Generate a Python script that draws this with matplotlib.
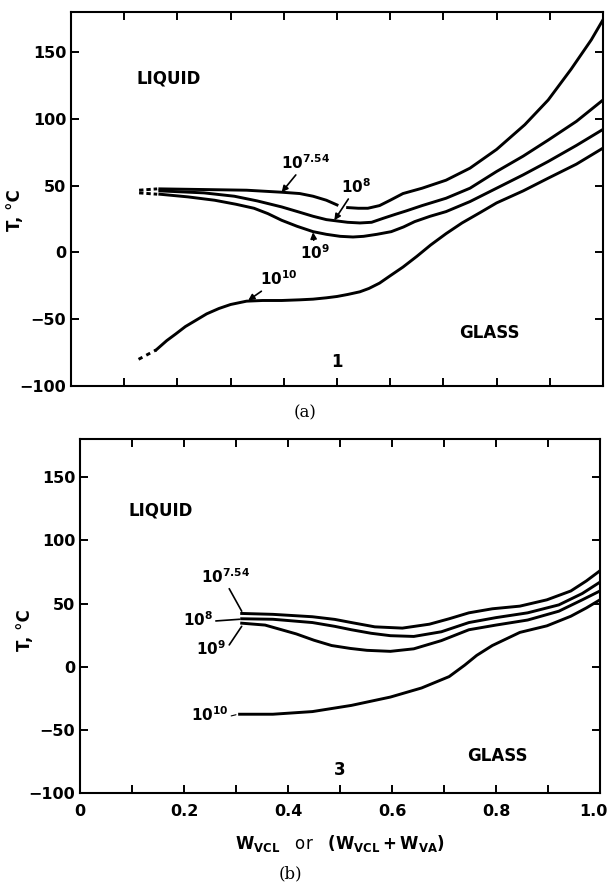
import numpy as np
import matplotlib
matplotlib.use("Agg")
import matplotlib.pyplot as plt
import matplotlib.transforms as mtransforms

plt.rcParams['font.family'] = ['DejaVu Sans']
plt.rcParams['mathtext.default'] = 'bf'

# ---------------- panel (a): sample 1 ----------------
a754_x1 = [0.167, 0.25, 0.33, 0.396, 0.43, 0.455, 0.48, 0.50]
a754_y1 = [47.5, 47, 46.5, 45, 44, 42, 39, 35.5]
a754_x2 = [0.52, 0.54, 0.558, 0.58, 0.60, 0.624, 0.66, 0.705, 0.75, 0.80,
           0.853, 0.897, 0.94, 0.978, 1.0]
a754_y2 = [33.5, 33, 33, 35, 39, 44, 48, 54, 63, 77, 95.5, 114, 137, 159, 174]

a8_x = [0.167, 0.25, 0.307, 0.35, 0.396, 0.43, 0.455, 0.48, 0.50, 0.52, 0.543,
        0.565, 0.587, 0.61, 0.63, 0.66, 0.705, 0.75, 0.80, 0.85, 0.897, 0.95, 1.0]
a8_y = [46, 44.5, 42, 38.5, 34, 30, 27, 24.5, 23.5, 22.5, 22, 22.5, 25.5, 28.5,
        31, 35, 40.5, 48, 60.5, 72, 84, 98, 114]

a9_x = [0.167, 0.22, 0.27, 0.31, 0.344, 0.37, 0.396, 0.425, 0.455, 0.48, 0.506,
        0.53, 0.55, 0.575, 0.602, 0.625, 0.646, 0.675, 0.705, 0.75, 0.80, 0.85,
        0.897, 0.95, 1.0]
a9_y = [43.5, 41.5, 39, 36, 33, 29, 24, 19.5, 15.5, 13.5, 12, 11.5, 12, 13.5,
        15.5, 19, 23, 27, 30.5, 38, 48, 58, 68, 80, 92]

a10_x = [0.16, 0.18, 0.197, 0.215, 0.234, 0.255, 0.278, 0.30, 0.33, 0.36, 0.396,
         0.43, 0.455, 0.48, 0.50, 0.52, 0.543, 0.56, 0.58, 0.60, 0.624, 0.65,
         0.676, 0.705, 0.735, 0.77, 0.80, 0.85, 0.897, 0.95, 1.0]
a10_y = [-73, -66, -61, -55.5, -51, -46, -42, -39, -36.5, -36, -36, -35.5, -35,
         -34, -33, -31.5, -29.5, -27, -23, -17.5, -11, -3, 5.5, 14, 22, 30, 37,
         46, 55.5, 66, 78]

# dashed (extrapolated) starts
a_dash_x = [0.128, 0.162]
a754_dash_y = [46.5, 47.5]
a9_dash_y = [44.5, 43.5]
a10_dash_x = [0.127, 0.16]
a10_dash_y = [-80, -73]

# ---------------- panel (b): sample 3 ----------------
b754_x = [0.311, 0.371, 0.447, 0.49, 0.522, 0.567, 0.62, 0.672, 0.71, 0.748,
          0.793, 0.846, 0.898, 0.944, 0.974, 1.0]
b754_y = [42.2, 41.5, 39.6, 37.5, 35, 31.6, 30.6, 33.7, 38, 42.7, 45.9, 48,
          53, 60, 68, 76]

b8_x = [0.311, 0.371, 0.447, 0.49, 0.522, 0.56, 0.597, 0.642, 0.695, 0.748,
        0.80, 0.861, 0.921, 0.966, 1.0]
b8_y = [38, 37.6, 35, 32, 29.3, 26.5, 24.6, 24, 27.7, 35, 38.9, 42.7, 49, 58, 67]

b9_x = [0.311, 0.356, 0.416, 0.45, 0.484, 0.52, 0.552, 0.597, 0.642, 0.695,
        0.748, 0.80, 0.861, 0.921, 0.966, 1.0]
b9_y = [34.5, 33, 26, 21, 16.8, 14.5, 13, 12.2, 14.2, 20.7, 29.3, 33, 37, 44,
        53, 60]

b10_x = [0.307, 0.371, 0.447, 0.522, 0.597, 0.657, 0.71, 0.74, 0.763, 0.793,
         0.846, 0.898, 0.944, 0.974, 1.0]
b10_y = [-37.6, -37.6, -35.5, -30.6, -24, -16.8, -7.8, 1.3, 9, 16.8, 27.2,
         32.4, 40, 46.6, 53]

yticks = [-100, -50, 0, 50, 100, 150]
xticks_major = [0, 0.2, 0.4, 0.6, 0.8, 1.0]
xtick_labels = ['0', '0.2', '0.4', '0.6', '0.8', '1.0']
xticks_minor = [0.1, 0.3, 0.5, 0.7, 0.9]

LW = 2.1
TXT = dict(fontsize=12, fontweight='bold')


def style_axes(ax, ylab_y):
    ax.set_xlim(0, 1.0)
    ax.set_ylim(-100, 180)
    ax.set_yticks(yticks)
    ax.set_xticks(xticks_major)
    ax.set_xticks(xticks_minor, minor=True)
    ax.tick_params(which='both', direction='in', top=True, right=True,
                   length=6, width=1.4, labelsize=11.5)
    ax.tick_params(axis='x', pad=8)
    for lab in ax.get_yticklabels():
        lab.set_fontweight('bold')
    for sp in ax.spines.values():
        sp.set_linewidth(1.5)
    ax.set_ylabel('T, °C', fontsize=12, fontweight='bold')
    ax.yaxis.set_label_coords(-0.088, ylab_y)


fig = plt.figure(figsize=(6.11, 8.84), dpi=100)

# ---- (a) ----
ax = fig.add_axes([0.1162, 0.5633, 0.8707, 0.4234])
style_axes(ax, 0.47)
ax.set_xticklabels([])
ax.plot(a754_x1, a754_y1, 'k-', lw=LW)
ax.plot(a754_x2, a754_y2, 'k-', lw=LW)
ax.plot(a8_x, a8_y, 'k-', lw=LW)
ax.plot(a9_x, a9_y, 'k-', lw=LW)
ax.plot(a10_x, a10_y, 'k-', lw=LW)
ax.plot(a_dash_x, a754_dash_y, 'k', lw=LW, ls=(0, (1.5, 1)))
ax.plot(a_dash_x, a9_dash_y, 'k', lw=LW, ls=(0, (1.5, 1)))
ax.plot(a10_dash_x, a10_dash_y, 'k', lw=LW, ls=(0, (1.5, 1.5)))

arrow = dict(arrowstyle='-|>', color='k', lw=1.2, mutation_scale=9,
             shrinkA=0, shrinkB=0)
ax.annotate(r'$10^{7.54}$', xy=(0.396, 45), xytext=(0.395, 60),
            fontsize=11, ha='left', va='bottom', arrowprops=arrow)
ax.annotate(r'$10^{8}$', xy=(0.495, 24), xytext=(0.508, 42),
            fontsize=11, ha='left', va='bottom', arrowprops=arrow)
ax.annotate(r'$10^{9}$', xy=(0.455, 15), xytext=(0.43, 7),
            fontsize=11, ha='left', va='top', arrowprops=arrow)
ax.annotate(r'$10^{10}$', xy=(0.333, -36), xytext=(0.355, -27),
            fontsize=11, ha='left', va='bottom', arrowprops=arrow)
ax.text(0.123, 130, 'LIQUID', ha='left', va='center', **TXT)
ax.text(0.73, -60, 'GLASS', ha='left', va='center', **TXT)
ax.text(0.5, -82, '1', ha='center', va='center', **TXT)
fig.text(305 / 611, 1 - 413 / 884, '(a)', ha='center', va='center',
         fontsize=12, family='DejaVu Serif')

# ---- (b) ----
ax = fig.add_axes([0.1309, 0.1029, 0.851, 0.4000])
style_axes(ax, 0.46)
ax.set_xticklabels(xtick_labels, fontweight='bold')
last = ax.get_xticklabels()[-1]
last.set_transform(last.get_transform() +
                   mtransforms.ScaledTranslation(-7 / 100, 0, fig.dpi_scale_trans))
ax.plot(b754_x, b754_y, 'k-', lw=LW)
ax.plot(b8_x, b8_y, 'k-', lw=LW)
ax.plot(b9_x, b9_y, 'k-', lw=LW)
ax.plot(b10_x, b10_y, 'k-', lw=LW)

lead = dict(arrowstyle='-', color='k', lw=1.2, shrinkA=0, shrinkB=0)
ax.annotate(r'$10^{7.54}$', xy=(0.311, 44), xytext=(0.232, 64),
            fontsize=11, ha='left', va='bottom',
            arrowprops=dict(lead, relpos=(0.55, 0)))
ax.annotate(r'$10^{8}$', xy=(0.307, 37.6), xytext=(0.198, 37.6),
            fontsize=11, ha='left', va='center',
            arrowprops=dict(lead, relpos=(1, 0.4)))
ax.annotate(r'$10^{9}$', xy=(0.311, 32), xytext=(0.224, 14),
            fontsize=11, ha='left', va='center',
            arrowprops=dict(lead, relpos=(1, 0.5)))
ax.annotate(r'$10^{10}$', xy=(0.30, -38), xytext=(0.213, -38),
            fontsize=11, ha='left', va='center',
            arrowprops=dict(lead, lw=0.8, relpos=(1, 0.4)))
ax.text(0.093, 124, 'LIQUID', ha='left', va='center', **TXT)
ax.text(0.744, -71, 'GLASS', ha='left', va='center', **TXT)
ax.text(0.5, -82, '3', ha='center', va='center', **TXT)
ax.set_xlabel(r'$W_{VCL}$   or   $(W_{VCL} + W_{VA})$', fontsize=12,
              labelpad=10)
fig.text(290 / 611, 1 - 874 / 884, '(b)', ha='center', va='center',
         fontsize=12, family='DejaVu Serif')

fig.savefig('out.png', dpi=100)
